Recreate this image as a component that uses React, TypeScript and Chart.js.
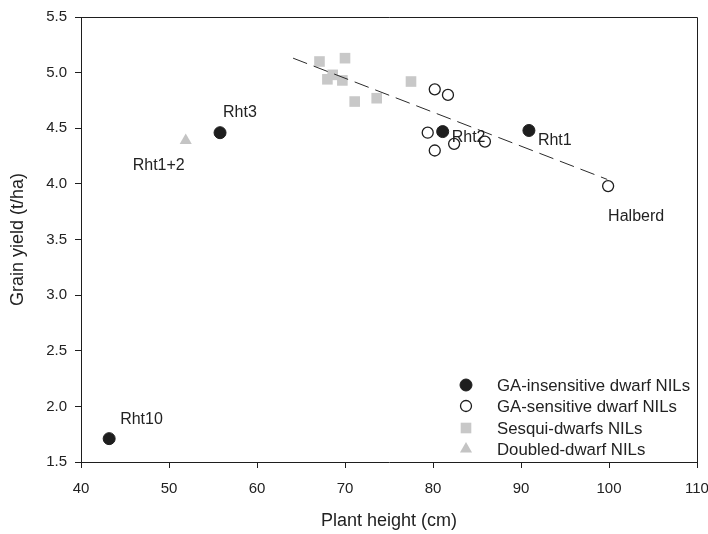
import React, { useEffect, useRef } from 'react';
import { Chart, registerables } from 'chart.js';

Chart.register(...registerables);

// ---- data ----
const insensitiveX = [43.2, 55.8, 81.1, 90.9];
const insensitiveY = [1.71, 4.46, 4.47, 4.48];
const sensitiveX = [80.2, 81.7, 79.4, 82.4, 85.9, 80.2, 99.9];
const sensitiveY = [4.85, 4.8, 4.46, 4.36, 4.38, 4.3, 3.98];
const sesquiX = [67.1, 70.0, 68.6, 68.0, 69.7, 71.1, 73.6, 77.5];
const sesquiY = [5.1, 5.13, 4.98, 4.94, 4.93, 4.74, 4.77, 4.92];
const doubledX = [51.9];
const doubledY = [4.39];
const trendX = [64.1, 99.8];
const trendY = [5.13, 4.04];

const seriesNames = [
  'GA-insensitive dwarf NILs',
  'GA-sensitive dwarf NILs',
  'Sesqui-dwarfs NILs',
  'Doubled-dwarf NILs',
];

const pointLabels = ['Rht10', 'Rht3', 'Rht1+2', 'Rht2', 'Rht1', 'Halberd'];
const pointLabelX = [43.2, 55.8, 51.9, 81.1, 90.9, 99.9];
const pointLabelY = [1.71, 4.46, 4.39, 4.47, 4.48, 3.98];

const xTitle = 'Plant height (cm)';
const yTitle = 'Grain yield (t/ha)';
const xMin = 40, xMax = 110, xStep = 10;
const yMin = 1.5, yMax = 5.5, yStep = 0.5;

// ---- styles ----
const FONT = "'Liberation Sans', Arial, Helvetica, sans-serif";
const INK = '#1e1e1e';
const TEXT = '#222222';
const GRAY_SQ = '#c8c8c8';
const GRAY_TRI = '#c4c4c4';

// label offsets in px: [dx, dy, align]
const labelOffsets: [number, number, CanvasTextAlign][] = [
  [11, -19, 'left'],
  [3, -20, 'left'],
  [-1, 25, 'right'],
  [9, 6, 'left'],
  [9, 10, 'left'],
  [0, 30, 'left'],
];

const zip = (xs: number[], ys: number[]) => xs.map((x, i) => ({ x, y: ys[i] }));

const legendItems = [
  { style: 'circle', r: 6, fill: INK, stroke: INK, lw: 1 },
  { style: 'circle', r: 5.5, fill: '#ffffff', stroke: INK, lw: 1.3 },
  { style: 'rect', r: 7.5, fill: GRAY_SQ, stroke: GRAY_SQ, lw: 0 },
  { style: 'triangle', r: 7, fill: GRAY_TRI, stroke: GRAY_TRI, lw: 0 },
];

const overlayPlugin = {
  id: 'overlay',
  afterDraw(chart: any) {
    const { ctx, chartArea, scales } = chart;
    const { left, right, top, bottom } = chartArea;
    ctx.save();
    // frame top & right
    ctx.strokeStyle = INK;
    ctx.lineWidth = 1;
    ctx.beginPath();
    ctx.moveTo(left, top + 0.5);
    ctx.lineTo(right + 0.5, top + 0.5);
    ctx.lineTo(right + 0.5, bottom);
    ctx.stroke();

    // point labels
    ctx.fillStyle = TEXT;
    ctx.font = `16px ${FONT}`;
    ctx.textBaseline = 'middle';
    pointLabels.forEach((t, i) => {
      const px = scales.x.getPixelForValue(pointLabelX[i]);
      const py = scales.y.getPixelForValue(pointLabelY[i]);
      const [dx, dy, al] = labelOffsets[i];
      ctx.textAlign = al;
      ctx.fillText(t, px + dx, py + dy);
    });

    // legend
    const mx = right - 231;
    const tx = right - 200;
    const rows = [bottom - 77, bottom - 56, bottom - 34, bottom - 13];
    legendItems.forEach((it, i) => {
      const y = rows[i];
      ctx.fillStyle = it.fill;
      ctx.strokeStyle = it.stroke;
      ctx.lineWidth = it.lw;
      ctx.beginPath();
      if (it.style === 'circle') {
        ctx.arc(mx, y, it.r, 0, Math.PI * 2);
        ctx.fill();
        if (it.lw) ctx.stroke();
      } else if (it.style === 'rect') {
        const s = Math.SQRT1_2 * it.r;
        ctx.rect(mx - s, y - s, 2 * s, 2 * s);
        ctx.fill();
      } else {
        const h = it.r;
        ctx.moveTo(mx, y - h);
        ctx.lineTo(mx + h * 0.866, y + h * 0.5);
        ctx.lineTo(mx - h * 0.866, y + h * 0.5);
        ctx.closePath();
        ctx.fill();
      }
      ctx.fillStyle = TEXT;
      ctx.font = `16.8px ${FONT}`;
      ctx.textAlign = 'left';
      ctx.textBaseline = 'middle';
      ctx.fillText(seriesNames[i], tx, y + 1);
    });
    ctx.restore();
  },
};

export default function App() {
  const ref = useRef<HTMLCanvasElement | null>(null);
  useEffect(() => {
    if (!ref.current) return;
    const chart = new Chart(ref.current, {
      type: 'scatter',
      data: {
        datasets: [
          {
            label: 'trend',
            data: zip(trendX, trendY),
            showLine: true,
            borderColor: '#2a2a2a',
            borderWidth: 1,
            borderDash: [15, 7],
            pointRadius: 0,
            order: 0,
          } as any,
          {
            label: seriesNames[2],
            data: zip(sesquiX, sesquiY),
            pointStyle: 'rect',
            pointRadius: 7.5,
            backgroundColor: GRAY_SQ,
            borderColor: GRAY_SQ,
            borderWidth: 0,
            order: 2,
          },
          {
            label: seriesNames[3],
            data: zip(doubledX, doubledY),
            pointStyle: 'triangle',
            pointRadius: 7,
            backgroundColor: GRAY_TRI,
            borderColor: GRAY_TRI,
            borderWidth: 0,
            order: 2,
          },
          {
            label: seriesNames[1],
            data: zip(sensitiveX, sensitiveY),
            pointStyle: 'circle',
            pointRadius: 5.5,
            backgroundColor: '#ffffff',
            borderColor: INK,
            borderWidth: 1.3,
            order: 1,
          },
          {
            label: seriesNames[0],
            data: zip(insensitiveX, insensitiveY),
            pointStyle: 'circle',
            pointRadius: 6,
            backgroundColor: INK,
            borderColor: INK,
            borderWidth: 1,
            order: 1,
          },
        ],
      },
      options: {
        responsive: false,
        animation: false,
        events: [],
        layout: { padding: { left: 0, top: 16, right: 11, bottom: 0 } },
        plugins: {
          legend: { display: false },
          tooltip: { enabled: false },
        },
        scales: {
          x: {
            type: 'linear',
            min: xMin,
            max: xMax,
            ticks: {
              stepSize: xStep,
              padding: 12,
              color: TEXT,
              font: { family: FONT, size: 15 },
              maxRotation: 0,
            },
            grid: {
              display: true,
              drawOnChartArea: false,
              drawTicks: true,
              tickLength: 6,
              color: INK,
              lineWidth: 1,
            },
            border: { display: true, color: INK, width: 1 },
            title: {
              display: true,
              text: xTitle,
              color: TEXT,
              font: { family: FONT, size: 18 },
              padding: { top: 0, bottom: 2 },
            },
            afterFit: (s: any) => {
              s.height = 72;
              s.paddingRight = 0;
            },
          },
          y: {
            type: 'linear',
            min: yMin,
            max: yMax,
            ticks: {
              stepSize: yStep,
              padding: 8,
              color: TEXT,
              font: { family: FONT, size: 15 },
              callback: (v: any) => Number(v).toFixed(1),
            },
            grid: {
              display: true,
              drawOnChartArea: false,
              drawTicks: true,
              tickLength: 6,
              color: INK,
              lineWidth: 1,
            },
            border: { display: true, color: INK, width: 1 },
            title: {
              display: true,
              text: yTitle,
              color: TEXT,
              font: { family: FONT, size: 18 },
              padding: { top: 7, bottom: 0 },
            },
            afterFit: (s: any) => {
              s.width = 81;
            },
          },
        },
      },
      plugins: [overlayPlugin],
    });
    return () => chart.destroy();
  }, []);
  return (
    <div style={{ position: 'fixed', left: 0, top: 0, width: 708, height: 534, background: '#fff' }}>
      <canvas ref={ref} width={708} height={534} style={{ width: 708, height: 534, display: 'block' }} />
    </div>
  );
}
